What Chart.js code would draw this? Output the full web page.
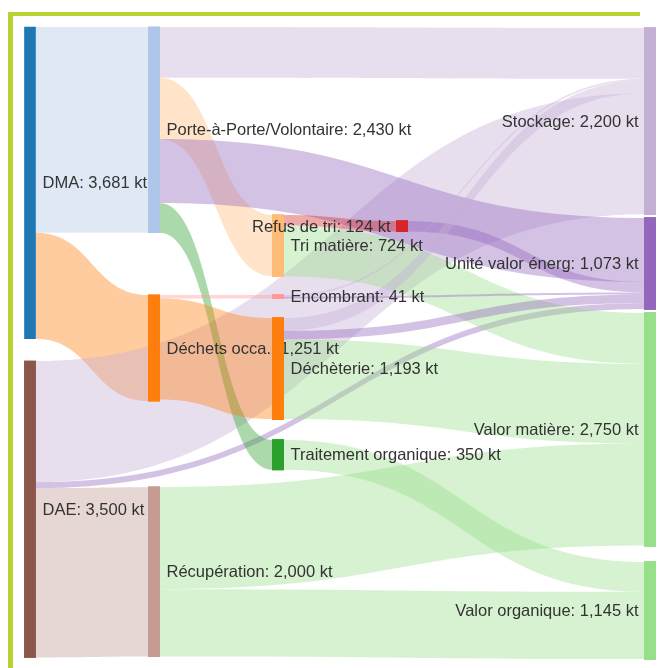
<!DOCTYPE html>
<html>
<head>
<meta charset="utf-8">
<script src="https://cdn.jsdelivr.net/npm/chart.js@4.4.1/dist/chart.umd.min.js"></script>
<style>
  html, body { margin: 0; padding: 0; background: #fff; overflow: hidden; }
  #wrap { position: relative; width: 661px; height: 668px; overflow: hidden; }
  .edge { position: absolute; background: #b7d433; }
  #edgeTop { left: 8px; top: 12px; width: 632px; height: 4px; }
  #edgeLeft { left: 8px; top: 12px; width: 5px; height: 656px; }
  #sankey { position: absolute; left: 0; top: 0; }
</style>
</head>
<body>
<div id="wrap">
  <div class="edge" id="edgeTop"></div>
  <div class="edge" id="edgeLeft"></div>
  <canvas id="sankey" width="661" height="668"></canvas>
</div>
<script>
// nodes (kt)
const nodeNames = [
  "DMA", "DAE", "Porte-à-Porte/Volontaire", "Déchets occa.", "Récupération",
  "Tri matière", "Refus de tri", "Encombrant", "Déchèterie", "Traitement organique",
  "Stockage", "Unité valor énerg", "Valor matière", "Valor organique"
];
const nodeValues = [3681, 3500, 2430, 1251, 2000, 724, 124, 41, 1193, 350, 2200, 1073, 2750, 1145];

const linkSource = [0, 0, 1, 1, 1, 2, 2, 2, 2, 3, 3, 5, 5, 6, 7, 7, 8, 8, 8, 9, 4, 4];
const linkTarget = [2, 3, 10, 11, 4, 10, 5, 11, 9, 7, 8, 6, 12, 11, 10, 11, 10, 11, 12, 13, 12, 13];
const linkValue = [2430, 1251, 1430, 70, 2000, 600, 724, 756, 350, 41, 1193, 124, 600, 124, 20, 21, 150, 102, 941, 350, 1205, 795];

// layout like plotly's node.x / node.y : column index and top offset (kt from top)
const nodeColumn = [0, 0, 1, 1, 1, 2, 3, 2, 2, 2, 5, 5, 5, 5];
const nodeTop = [0, 3946, 0, 3166, 5435, 2221, 2292, 3166, 3438, 4879, 12, 2257, 3379, 6321];
const nodeColors = [
  "#1f77b4", "#8c564b", "#aec7e8", "#ff7f0e", "#c49c94",
  "#ffbb78", "#d62728", "#ff9896", "#ff7f0e", "#2ca02c",
  "#c5b0d5", "#9467bd", "#98df8a", "#98df8a"
];

const NODE_W = 11;
const LINK_ALPHA = 0.4;

function rgba(hex, a) {
  const n = parseInt(hex.slice(1), 16);
  return `rgba(${(n >> 16) & 255}, ${(n >> 8) & 255}, ${n & 255}, ${a})`;
}

// stack flows on each node: outgoing sorted by target top, incoming by source top
function buildLinks() {
  const links = linkValue.map((v, i) => ({ s: linkSource[i], t: linkTarget[i], v: v }));
  nodeNames.forEach((_, n) => {
    let off = 0;
    links.filter((l) => l.s === n)
      .sort((a, b) => nodeTop[a.t] - nodeTop[b.t])
      .forEach((l) => { l.sy = nodeTop[n] + off; off += l.v; });
    off = 0;
    links.filter((l) => l.t === n)
      .sort((a, b) => nodeTop[a.s] - nodeTop[b.s])
      .forEach((l) => { l.ty = nodeTop[n] + off; off += l.v; });
  });
  return links;
}
const links = buildLinks();

const sankeyPlugin = {
  id: "sankeyLinks",
  beforeDatasetsDraw(chart) {
    const ctx = chart.ctx;
    const xs = chart.scales.x, ys = chart.scales.y;
    ctx.save();
    links.forEach((l) => {
      const x0 = xs.getPixelForValue(nodeColumn[l.s]) + NODE_W / 2;
      const x1 = xs.getPixelForValue(nodeColumn[l.t]) - NODE_W / 2;
      const xm = (x0 + x1) / 2;
      const a0 = ys.getPixelForValue(l.sy), b0 = ys.getPixelForValue(l.sy + l.v);
      const a1 = ys.getPixelForValue(l.ty), b1 = ys.getPixelForValue(l.ty + l.v);
      ctx.beginPath();
      ctx.moveTo(x0, a0);
      ctx.bezierCurveTo(xm, a0, xm, a1, x1, a1);
      ctx.lineTo(x1, b1);
      ctx.bezierCurveTo(xm, b1, xm, b0, x0, b0);
      ctx.closePath();
      ctx.fillStyle = rgba(nodeColors[l.t], LINK_ALPHA);
      ctx.fill();
    });
    ctx.restore();
  },
  afterDatasetsDraw(chart) {
    const ctx = chart.ctx;
    const xs = chart.scales.x, ys = chart.scales.y;
    const meta = chart.getDatasetMeta(0);
    ctx.save();
    ctx.font = '16.5px "Liberation Sans", Arial, sans-serif';
    ctx.textBaseline = "middle";
    nodeNames.forEach((name, i) => {
      const text = name + ": " + nodeValues[i].toLocaleString("en-US") + " kt";
      const xc = xs.getPixelForValue(nodeColumn[i]);
      const yc = (ys.getPixelForValue(nodeTop[i]) + ys.getPixelForValue(nodeTop[i] + nodeValues[i])) / 2;
      const onLeft = nodeColumn[i] / xs.max > 0.5;
      ctx.fillStyle = "#333";
      ctx.textAlign = onLeft ? "right" : "left";
      ctx.fillText(text, onLeft ? xc - NODE_W / 2 - 6 : xc + NODE_W / 2 + 7, yc + 1);
      // later nodes sit above earlier labels
      for (let j = i + 1; j < nodeNames.length; j++) meta.data[j].draw(ctx);
    });
    ctx.restore();
  }
};

new Chart(document.getElementById("sankey"), {
  type: "bar",
  data: {
    datasets: [{
      data: nodeNames.map((n, i) => ({ x: nodeColumn[i], y: [nodeTop[i], nodeTop[i] + nodeValues[i]] })),
      backgroundColor: nodeColors,
      borderWidth: 0,
      barThickness: NODE_W,
      clip: false
    }]
  },
  options: {
    responsive: false,
    animation: false,
    layout: { padding: { left: 30, right: 11, top: 27, bottom: 6 } },
    scales: {
      x: { type: "linear", min: 0, max: 5, offset: false, display: false },
      y: { type: "linear", min: 0, max: 7500, reverse: true, display: false }
    },
    plugins: { legend: { display: false }, tooltip: { enabled: false } }
  },
  plugins: [sankeyPlugin]
});
</script>
</body>
</html>
